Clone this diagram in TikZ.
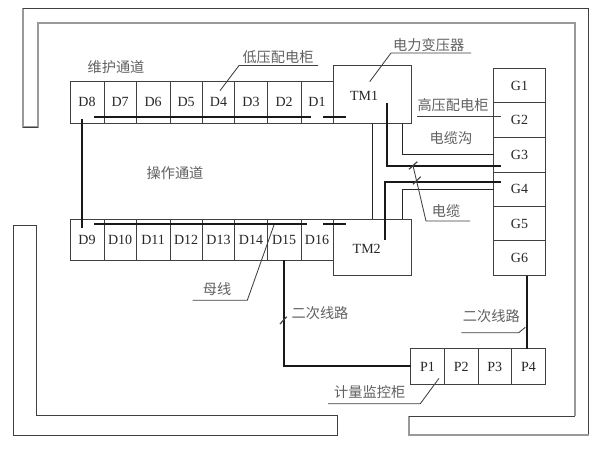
\documentclass[tikz,border=0pt]{standalone}
\usepackage{fontspec}
\setmainfont{Liberation Serif}
\newfontfamily\cjk{Noto Sans CJK SC}
\definecolor{ink}{gray}{0.25}
\definecolor{wallgray}{gray}{0.6}
\definecolor{thickink}{gray}{0.1}
\definecolor{textink}{gray}{0.15}
\definecolor{cjkink}{gray}{0.38}
\newcommand{\cabinet}[6]{%
  \pgfmathsetmacro{\cx}{(#2+#3)/2}\pgfmathsetmacro{\cy}{(#4+#5)/2}%
  \pgfmathsetmacro{\cw}{#3-#2}\pgfmathsetmacro{\ch}{#5-#4}%
  \node[cabinetbox,minimum width=\cw pt,minimum height=\ch pt] (#1) at (\cx,\cy) {#6};}
\tikzset{
  cabinetbox/.style={draw=ink,line width=0.9pt,inner sep=0pt,outer sep=0pt,font=\fontsize{14}{15}\selectfont,text=textink},
  plate/.style={inner sep=0pt,font=\fontsize{14}{15}\selectfont,text=textink},
  cjklabel/.style={inner sep=0pt,font=\cjk\fontsize{14.2}{15}\selectfont,text=cjkink},
  leader/.style={draw=ink,line width=0.85pt},
  wire/.style={draw=black!85,line width=1.1pt},
  heavy/.style={draw=thickink,line width=2pt},
  wall/.style={draw=ink,line width=0.85pt},
  lightwall/.style={draw=wallgray,line width=1.5pt},
}
\begin{document}
\begin{tikzpicture}[x=1pt,y=-1pt]
\useasboundingbox[fill=white] (0,0) rectangle (616,454);
% walls
\draw[lightwall] (23,8) -- (23,127) -- (38,127) -- (38,23) -- (575,23) -- (575,416);
\draw[wall] (23,127) -- (38,127);
\draw[wall] (23,8) -- (588.7,8) -- (588.7,435);
\draw[lightwall] (588.7,435) -- (409,435) -- (409,416);
\draw[wall] (409,416) -- (575,416);
\draw[wall] (13,225) -- (36,225) -- (36,415) -- (337,415) -- (337,435) -- (13,435) -- cycle;
% low voltage rows
\cabinet{D8}{70}{104}{81.7}{123}{\raisebox{1.5pt}{D8}}
\cabinet{D7}{104}{136.3}{81.7}{123}{\raisebox{1.5pt}{D7}}
\cabinet{D6}{136.3}{170}{81.7}{123}{\raisebox{1.5pt}{D6}}
\cabinet{D5}{170}{202.3}{81.7}{123}{\raisebox{1.5pt}{D5}}
\cabinet{D4}{202.3}{234.7}{81.7}{123}{\raisebox{1.5pt}{D4}}
\cabinet{D3}{234.7}{267.3}{81.7}{123}{\raisebox{1.5pt}{D3}}
\cabinet{D2}{267.3}{301}{81.7}{123}{\raisebox{1.5pt}{D2}}
\cabinet{D1}{301}{333}{81.7}{123}{\raisebox{1.5pt}{D1}}
\cabinet{D9}{70}{104}{219}{260}{\raisebox{-1pt}{D9}}
\cabinet{D10}{104}{136.3}{219}{260}{\raisebox{-1pt}{D10}}
\cabinet{D11}{136.3}{170}{219}{260}{\raisebox{-1pt}{D11}}
\cabinet{D12}{170}{202.3}{219}{260}{\raisebox{-1pt}{D12}}
\cabinet{D13}{202.3}{234.7}{219}{260}{\raisebox{-1pt}{D13}}
\cabinet{D14}{234.7}{267.3}{219}{260}{\raisebox{-1pt}{D14}}
\cabinet{D15}{267.3}{301}{219}{260}{\raisebox{-1pt}{D15}}
\cabinet{D16}{301}{333}{219}{260}{\raisebox{-1pt}{D16}}
% transformers
\cabinet{TM1}{333}{411}{65}{123}{}
\cabinet{TM2}{333}{411}{219}{275.7}{}
\node[plate] (TM1text) at (364,95.5) {TM1};
\node[plate] (TM2text) at (366.7,249) {TM2};
% high voltage
\cabinet{G1}{493.7}{545.3}{68.3}{102.7}{G1}
\cabinet{G2}{493.7}{545.3}{102.7}{137.3}{\raisebox{-2pt}{G2}}
\cabinet{G3}{493.7}{545.3}{137.3}{172.3}{G3}
\cabinet{G4}{493.7}{545.3}{172.3}{206.3}{G4}
\cabinet{G5}{493.7}{545.3}{206.3}{240.7}{G5}
\cabinet{G6}{493.7}{545.3}{240.7}{275.7}{G6}
% metering
\cabinet{P1}{410.7}{444.3}{348.7}{384.3}{P1}
\cabinet{P2}{444.3}{478}{348.7}{384.3}{P2}
\cabinet{P3}{478}{511.7}{348.7}{384.3}{P3}
\cabinet{P4}{511.7}{545.3}{348.7}{384.3}{P4}
% coordinates for wire ends
\coordinate (busAa) at (94,116.7);   \coordinate (busAb) at (311,116.7);
\coordinate (busAc) at (323,116.7);  \coordinate (busAd) at (345.5,116.7);
\coordinate (busBa) at (94,224.3);   \coordinate (busBb) at (307,224.3);
\coordinate (busBc) at (323,224.3);  \coordinate (busBd) at (345.5,224.3);
\coordinate (tieA) at (81.7,119.5);  \coordinate (tieB) at (81.7,228);
\coordinate (tm1s) at (402.3,123);   \coordinate (tm2n) at (402.3,219);
\coordinate (tm1m) at (372.7,123);   \coordinate (tm2m) at (372.7,219);
\coordinate (hvA) at (387.3,102.7);  \coordinate (hvAe) at (501.3,165.7);
\coordinate (hvB) at (385.3,240);    \coordinate (hvBe) at (501.3,181.7);
\coordinate (sec1) at (526.7,275.7); \coordinate (sec2) at (526.7,348.7);
% thin wires
\draw[wire] (tm1m) -- (tm2m);
\draw[wire] (tm1s) |- (G3.west);
\draw[wire] (tm2n) |- (G4.west);
% heavy wires
\draw[heavy] (busAa) -- (busAb);
\draw[heavy] (busAc) -- (busAd);
\draw[heavy] (busBa) -- (busBb);
\draw[heavy] (busBc) -- (busBd);
\draw[heavy] (tieA) -- (tieB);
\draw[heavy] (hvA) |- (hvAe);
\draw[heavy] (hvB) |- (hvBe);
\draw[heavy] (D15.south) |- (P1.west);
\draw[heavy] (sec1) -- (sec2);
% tick marks
\coordinate (tkAa) at (409,169.3); \coordinate (tkAb) at (417.3,161.7);
\coordinate (tkBa) at (413,184.3); \coordinate (tkBb) at (420.7,176.7);
\coordinate (tkCa) at (280,324);   \coordinate (tkCb) at (286.7,316.7);
\draw[leader,line width=1.2pt] (tkAa) -- (tkAb);
\draw[leader,line width=1.2pt] (tkBa) -- (tkBb);
\draw[leader,line width=1.2pt] (tkCa) -- (tkCb);
% labels
\node[cjklabel] (lwh) at (116,66.7) {维护通道};
\node[cjklabel] (lcz) at (175,172.7) {操作通道};
\node[cjklabel] (ldy) at (278,57) {低压配电柜};
\node[cjklabel] (lby) at (428.7,45) {电力变压器};
\node[cjklabel] (lgy) at (453,105) {高压配电柜};
\node[cjklabel] (lgc) at (451,138) {电缆沟};
\node[cjklabel] (ldl) at (446,210.7) {电缆};
\node[cjklabel] (lmx) at (217,289) {母线};
\node[cjklabel] (lec) at (320,313) {二次线路};
\node[cjklabel] (led) at (491.3,316) {二次线路};
\node[cjklabel] (ljl) at (369.7,392) {计量监控柜};
% leaders
\coordinate (a1) at (318,65.5);  \coordinate (a2) at (239,65.5);  \coordinate (a3) at (220,90.7);
\coordinate (b1) at (471,53);    \coordinate (b2) at (391,53);    \coordinate (b3) at (369.7,81.7);
\coordinate (c1) at (417,116);   \coordinate (c2) at (501.3,116);
\coordinate (d1) at (470,221);   \coordinate (d2) at (426,221);   \coordinate (d3) at (413,165.7);
\coordinate (e1) at (192.7,300.3); \coordinate (e2) at (247.3,300.3); \coordinate (e3) at (274,225);
\coordinate (f1) at (461.3,332.7); \coordinate (f2) at (518.7,332.7); \coordinate (f3) at (525.3,327.3);
\coordinate (g1) at (328,403.7); \coordinate (g2) at (420.3,403.7); \coordinate (g3) at (439,378.3);
\draw[leader] (a1) -- (a2) -- (a3);
\draw[leader] (b1) -- (b2) -- (b3);
\draw[leader] (c1) -- (c2);
\draw[leader] (d1) -- (d2) -- (d3);
\draw[leader] (e1) -- (e2) -- (e3);
\draw[leader] (f1) -- (f2) -- (f3);
\draw[leader] (g1) -- (g2) -- (g3);
\end{tikzpicture}
\end{document}
